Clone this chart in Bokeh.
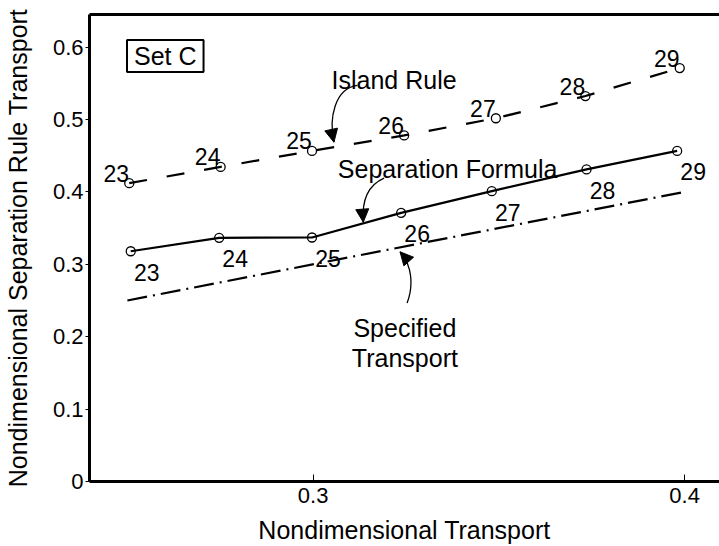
from bokeh.plotting import figure
from bokeh.models import Range1d, FixedTicker, LinearAxis, Label, Arrow, NormalHead, ColumnDataSource
from bokeh.embed import file_html
from bokeh.resources import INLINE
from bokeh.core.properties import value

FONT = "Liberation Sans"

# ---- data ----
run_labels = ["23", "24", "25", "26", "27", "28", "29"]
island_x = [0.2505, 0.2751, 0.2997, 0.3245, 0.3492, 0.3733, 0.3987]
island_y = [0.412, 0.4345, 0.4566, 0.478, 0.5017, 0.5324, 0.571]
sep_x = [0.2509, 0.2747, 0.2997, 0.3237, 0.3481, 0.3736, 0.398]
sep_y = [0.318, 0.3366, 0.337, 0.371, 0.401, 0.431, 0.4566]
spec_x = [0.25, 0.40]
spec_y = [0.25, 0.40]

x_ticks = [0.3, 0.4]
y_ticks = [0, 0.1, 0.2, 0.3, 0.4, 0.5, 0.6]

# annotation anchors (data coordinates)
ann_text = ["Island Rule", "Separation Formula", "Specified", "Transport"]
ann_x = [0.3218, 0.3362, 0.3247, 0.3247]
ann_y = [0.554, 0.4322, 0.2116, 0.1702]

# curved arrows: cubic bezier (start, control0, control1, tip)
arr_x0 = [0.3119, 0.3191, 0.3253]
arr_y0 = [0.5472, 0.4189, 0.2465]
arr_cx0 = [0.3058, 0.3154, 0.3271]
arr_cy0 = [0.5430, 0.4106, 0.2713]
arr_cx1 = [0.3042, 0.3130, 0.3266]
arr_cy1 = [0.5017, 0.3913, 0.2989]
arr_x1 = [0.3056, 0.3135, 0.3234]
arr_y1 = [0.4686, 0.3582, 0.3172]

p = figure(width=719, height=546, output_backend="svg", toolbar_location=None,
           x_range=Range1d(0.2398, 0.4094), y_range=Range1d(0, 0.645),
           min_border_left=83, min_border_right=0, min_border_top=14, min_border_bottom=64,
           x_axis_label="Nondimensional Transport",
           y_axis_label="Nondimensional Separation Rule Transport")
p.outline_line_color = None
p.grid.visible = False
p.background_fill_color = "white"
p.border_fill_color = "white"

for ax in (p.xaxis[0], p.yaxis[0]):
    ax.axis_line_width = 3
    ax.axis_line_color = "black"
    ax.major_tick_line_color = "black"
    ax.major_tick_line_width = 1
    ax.minor_tick_line_color = None
    ax.major_label_text_font = FONT
    ax.major_label_text_font_size = "22px"
    ax.major_label_text_color = "black"
    ax.axis_label_text_font = FONT
    ax.axis_label_text_font_size = "25px"
    ax.axis_label_text_font_style = "normal"
    ax.axis_label_text_color = "black"

p.xaxis[0].ticker = FixedTicker(ticks=x_ticks)
p.xaxis[0].major_tick_in = 7
p.xaxis[0].major_tick_out = 0
p.xaxis[0].major_label_standoff = 6
p.xaxis[0].axis_label_standoff = 10

p.yaxis[0].ticker = FixedTicker(ticks=y_ticks)
p.yaxis[0].major_tick_in = 0
p.yaxis[0].major_tick_out = 4
p.yaxis[0].major_label_standoff = 2
p.yaxis[0].axis_label_standoff = 18
p.yaxis[0].major_label_overrides = {0: "0"}

top = LinearAxis(ticker=FixedTicker(ticks=[]), major_tick_in=0, major_tick_out=0,
                 minor_tick_line_color=None, major_label_text_font_size="0px",
                 axis_line_width=3, axis_line_color="black")
p.add_layout(top, "above")

# series
p.line(spec_x, spec_y, line_color="black", line_width=2.2, line_dash="20 6 2 6")
p.line(island_x, island_y, line_color="black", line_width=2.2, line_dash="18 20")
p.line(sep_x, sep_y, line_color="black", line_width=2.2)
p.scatter(island_x, island_y, marker="circle", size=9, fill_color=None, line_color="black", line_width=1.3)
p.scatter(sep_x, sep_y, marker="circle", size=9, fill_color=None, line_color="black", line_width=1.3)

isl_src = ColumnDataSource(dict(x=island_x, y=island_y, t=run_labels))
sep_src = ColumnDataSource(dict(x=sep_x, y=sep_y, t=run_labels))
p.text(x="x", y="y", text="t", source=isl_src, text_font=value(FONT), text_font_size="23px",
       text_align="center", text_baseline="alphabetic", x_offset=-13, y_offset=-10, text_color="black")
p.text(x="x", y="y", text="t", source=sep_src, text_font=value(FONT), text_font_size="23px",
       text_align="center", text_baseline="alphabetic", x_offset=16, y_offset=21, text_color="black")

# annotations
p.text(x=ann_x, y=ann_y, text=ann_text, text_font=value(FONT), text_font_size="25px",
       text_align="center", text_baseline="alphabetic", text_color="black")
p.bezier(x0=arr_x0, y0=arr_y0, x1=arr_x1, y1=arr_y1, cx0=arr_cx0, cy0=arr_cy0,
         cx1=arr_cx1, cy1=arr_cy1, line_color="black", line_width=1.3)
for i in range(3):
    p.add_layout(Arrow(x_start=arr_cx1[i], y_start=arr_cy1[i], x_end=arr_x1[i], y_end=arr_y1[i],
                       line_alpha=0,
                       end=NormalHead(size=13, fill_color="black", line_color="black", line_width=1)))

p.add_layout(Label(x=0.2602, y=0.5876, text="Set C", text_font=FONT, text_font_size="25px",
                   text_align="center", text_baseline="middle", text_color="black",
                   border_line_color="black", border_line_width=2, padding=(7, 2)))

open("out.html", "w").write(file_html(p, INLINE))
